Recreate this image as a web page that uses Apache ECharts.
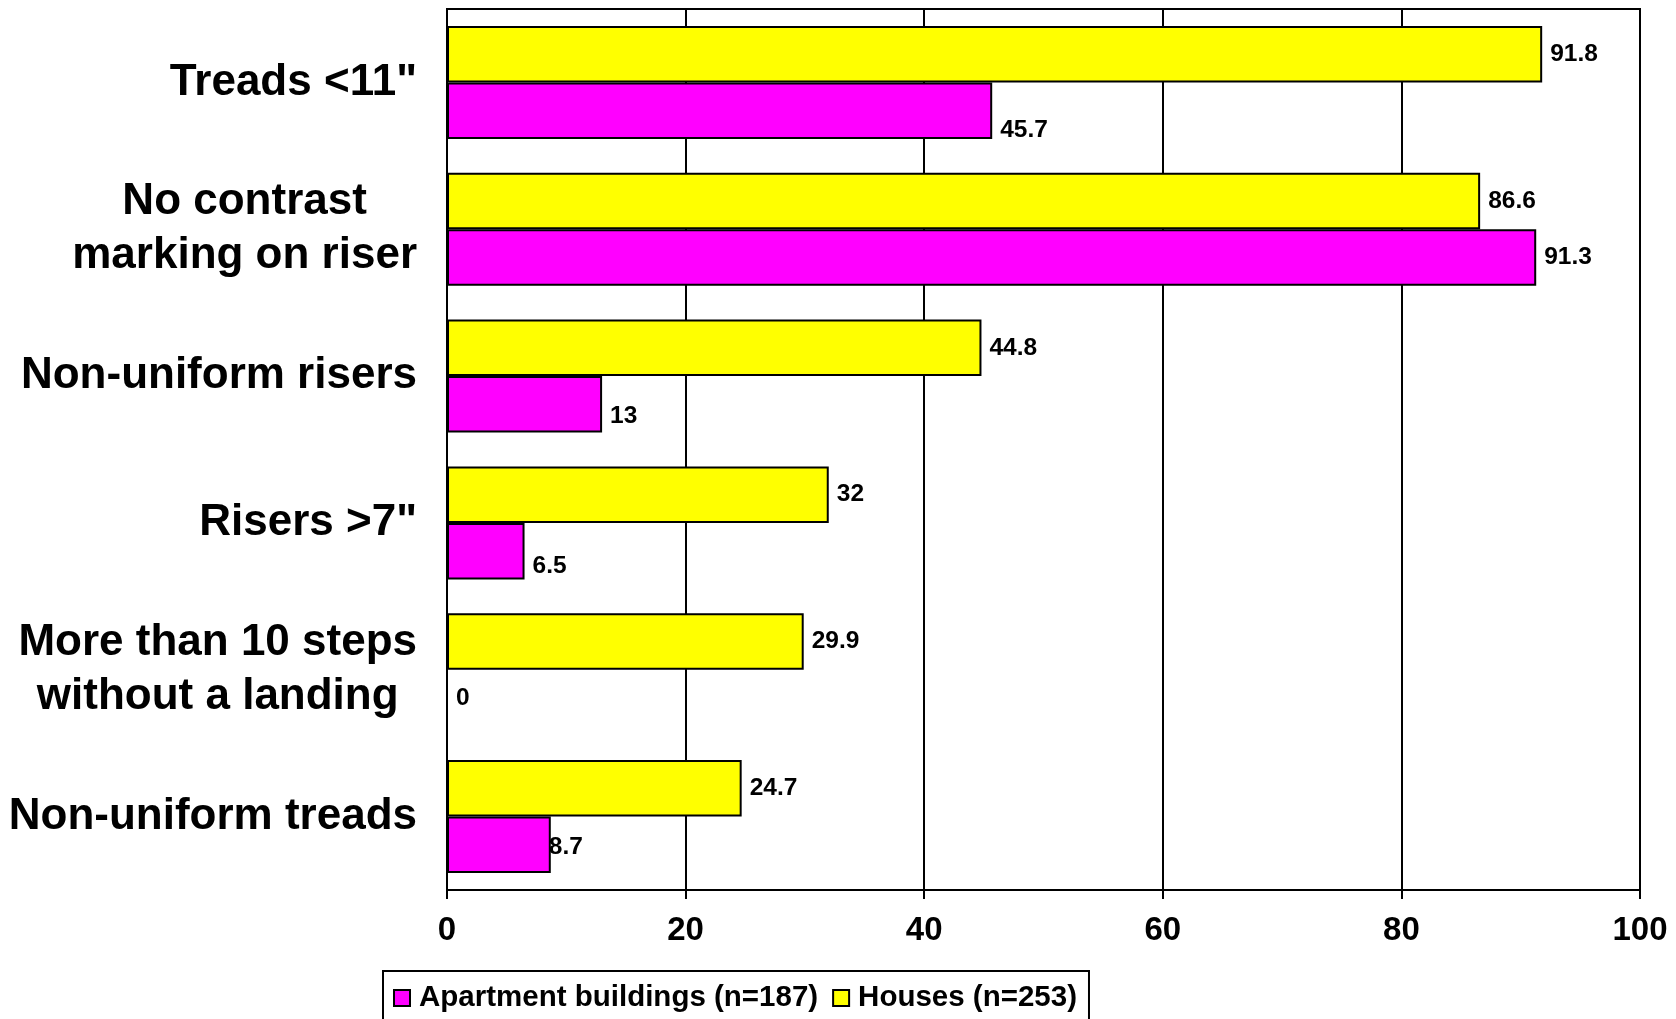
<!DOCTYPE html>
<html>
<head>
<meta charset="utf-8">
<script src="https://cdn.jsdelivr.net/npm/echarts@6/dist/echarts.min.js"></script>
<style>
  html, body { margin: 0; padding: 0; background: #ffffff; }
  #chart { width: 1676px; height: 1019px; }
</style>
</head>
<body>
<div id="chart"></div>
<script>
// Stair hazard categories, listed top to bottom
const categories = [
  'Treads <11"',
  'No contrast\nmarking on riser',
  'Non-uniform risers',
  'Risers >7"',
  'More than 10 steps\nwithout a landing',
  'Non-uniform treads'
];
const seriesNames = ['Apartment buildings (n=187)', 'Houses (n=253)'];
const apartmentValues = [45.7, 91.3, 13, 6.5, 0, 8.7];
const houseValues = [91.8, 86.6, 44.8, 32, 29.9, 24.7];
const xTicks = [0, 20, 40, 60, 80, 100];

// Small nudges for a few apartment value labels (pixels)
const apartmentLabelNudges = [[0, 20], [0, 0], [0, 12], [0, 15], [0, 0], [-10, 2]];

const FONT = '"Liberation Sans", Arial, sans-serif';

const valueLabel = {
  show: true,
  position: 'right',
  distance: 8,
  color: '#000',
  fontFamily: FONT,
  fontWeight: 'bold',
  fontSize: 24.5
};

const chart = echarts.init(document.getElementById('chart'), null, { renderer: 'canvas' });

chart.setOption({
  animation: false,
  backgroundColor: '#ffffff',
  textStyle: { fontFamily: FONT },
  grid: {
    left: 447,
    right: 36,
    top: 9,
    bottom: 129,
    show: true,
    borderColor: '#000',
    borderWidth: 2,
    containLabel: false
  },
  legend: {
    data: seriesNames,
    left: 383,
    top: 971,
    orient: 'horizontal',
    icon: 'rect',
    itemWidth: 16,
    itemHeight: 16,
    itemGap: 14,
    padding: [12, 12, 12, 10],
    borderColor: '#000',
    borderWidth: 2,
    backgroundColor: '#fff',
    textStyle: {
      fontFamily: FONT, fontWeight: 'bold', fontSize: 29.5, color: '#000',
      padding: [0, 0, 0, 4]
    }
  },
  xAxis: {
    type: 'value',
    min: xTicks[0],
    max: xTicks[xTicks.length - 1],
    interval: xTicks[1] - xTicks[0],
    axisLine: { show: true, lineStyle: { color: '#000', width: 2 } },
    axisTick: { show: true, length: 9, inside: false, lineStyle: { color: '#000', width: 2 } },
    splitLine: { show: true, lineStyle: { color: '#000', width: 2 } },
    axisLabel: {
      color: '#000', fontFamily: FONT, fontWeight: 'bold', fontSize: 33, margin: 24,
      formatter: v => String(v)
    }
  },
  yAxis: {
    type: 'category',
    inverse: true,
    data: categories,
    axisLine: { show: true, lineStyle: { color: '#000', width: 2 } },
    axisTick: { show: false },
    splitLine: { show: false },
    axisLabel: {
      margin: 30,
      color: '#000',
      fontFamily: FONT,
      fontWeight: 'bold',
      fontSize: 44,
      lineHeight: 54,
      formatter: v => v.split('\n').map(line => '{c|' + line + '}').join('\n'),
      rich: {
        c: { align: 'center', color: '#000', fontFamily: FONT, fontWeight: 'bold', fontSize: 44, lineHeight: 54 }
      }
    }
  },
  series: [
    // Houses first so its bar sits above the apartment bar in each group
    {
      name: seriesNames[1],
      type: 'bar',
      barGap: '0%',
      barCategoryGap: '23%',
      itemStyle: { color: '#FFFF00', borderColor: '#000', borderWidth: 2 },
      label: valueLabel,
      data: houseValues
    },
    {
      name: seriesNames[0],
      type: 'bar',
      barGap: '0%',
      barCategoryGap: '23%',
      itemStyle: { color: '#FF00FF', borderColor: '#000', borderWidth: 2 },
      label: valueLabel,
      data: apartmentValues.map((v, i) => ({
        value: v,
        label: { offset: apartmentLabelNudges[i] }
      }))
    }
  ]
});
</script>
</body>
</html>
